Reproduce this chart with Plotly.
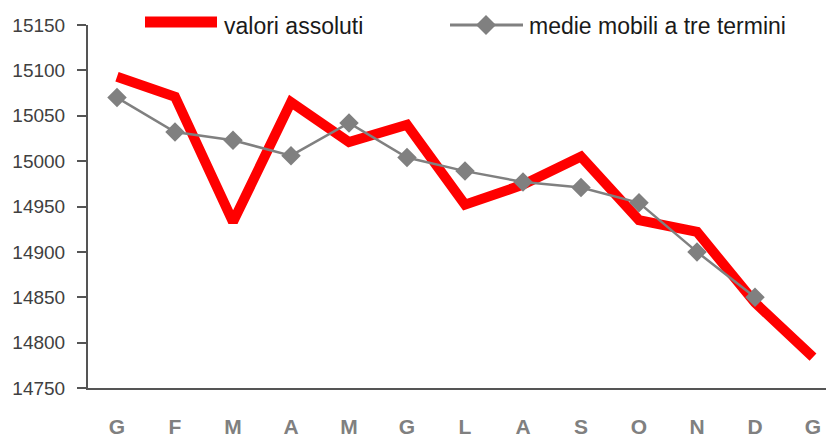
import plotly.graph_objects as go

months = ["G", "F", "M", "A", "M", "G", "L", "A", "S", "O", "N", "D", "G"]
valori_assoluti = [15093, 15071, 14933, 15065, 15021, 15040, 14952, 14974, 15005, 14935, 14922, 14844, 14784]
medie_mobili = [15070, 15032, 15023, 15006, 15042, 15004, 14989, 14977, 14971, 14954, 14900, 14850]
y_ticks = [14750, 14800, 14850, 14900, 14950, 15000, 15050, 15100, 15150]
y_tick_labels = ["14750", "14800", "14850", "14900", "14950", "15000", "15050", "15100", "15150"]

# the page body has an 8px margin; size the figure so it fills the window
OFF = 8
PAGE_W, PAGE_H = 834, 441
W, H = PAGE_W - OFF, PAGE_H - OFF
# plot area in page pixels: left 88, top 25, right 834, bottom 388
ML, MT = 88 - OFF, 25 - OFF
MR, MB = 0, PAGE_H - 388
PW, PH = W - ML - MR, H - MT - MB

def px(x):  # page pixel -> paper x
    return (x - OFF - ML) / PW

def py(y):  # page pixel -> paper y
    return (H - MB - (y - OFF)) / PH

xs = list(range(len(months)))

fig = go.Figure()
fig.add_trace(go.Scatter(
    x=xs, y=valori_assoluti, mode="lines", name="valori assoluti",
    line=dict(color="#ff0000", width=10), showlegend=False,
))
fig.add_trace(go.Scatter(
    x=xs[:len(medie_mobili)], y=medie_mobili, mode="lines+markers",
    name="medie mobili a tre termini",
    line=dict(color="#808080", width=2.5),
    marker=dict(symbol="diamond", size=15, color="#808080"),
    showlegend=False,
))

font_family = "Liberation Sans, Arial, sans-serif"

# custom legend
shapes = [
    dict(type="line", xref="paper", yref="paper", x0=px(145), x1=px(217), y0=py(22), y1=py(22),
         line=dict(color="#ff0000", width=11)),
    dict(type="line", xref="paper", yref="paper", x0=px(450), x1=px(523), y0=py(25), y1=py(25),
         line=dict(color="#808080", width=3)),
    dict(type="path", xref="paper", yref="paper", xsizemode="pixel", ysizemode="pixel",
         xanchor=px(486), yanchor=py(25), path="M -10 0 L 0 10 L 10 0 L 0 -10 Z",
         fillcolor="#808080", line=dict(width=0)),
]
annotations = [
    dict(text="valori assoluti", xref="paper", yref="paper", x=px(222), y=py(26),
         xanchor="left", yanchor="middle", showarrow=False,
         font=dict(size=23, color="#1a1a1a", family=font_family)),
    dict(text="medie mobili a tre termini", xref="paper", yref="paper", x=px(527), y=py(26),
         xanchor="left", yanchor="middle", showarrow=False,
         font=dict(size=23, color="#1a1a1a", family=font_family)),
]

fig.update_layout(
    width=W, height=H,
    margin=dict(l=ML, r=MR, t=MT, b=MB, pad=0, autoexpand=False),
    paper_bgcolor="white", plot_bgcolor="white",
    showlegend=False,
    shapes=shapes, annotations=annotations,
    xaxis=dict(
        range=[-0.5, (PAGE_W - 117) / 58.0],
        tickmode="array", tickvals=xs, ticktext=months,
        showgrid=False, zeroline=False, automargin=False,
        showline=True, linecolor="#555555", linewidth=2,
        ticks="", ticklabelstandoff=19,
        tickfont=dict(size=21, color="#808080", family=font_family, weight="bold"),
    ),
    yaxis=dict(
        range=[14750, 15150],
        tickmode="array", tickvals=y_ticks, ticktext=y_tick_labels,
        showgrid=False, zeroline=False, automargin=False,
        showline=True, linecolor="#555555", linewidth=2,
        ticks="outside", ticklen=9, tickwidth=2, tickcolor="#555555",
        ticklabelstandoff=8,
        tickfont=dict(size=19, color="#404040", family=font_family),
    ),
    yaxis2=dict(
        range=[14750, 15150], overlaying="y", side="left", anchor="x",
        tickmode="array", tickvals=y_ticks,
        showgrid=False, zeroline=False, showline=False, automargin=False,
        ticks="inside", ticklen=8, tickwidth=2, tickcolor="#555555",
        showticklabels=False,
    ),
)

fig.write_html("out.html")
